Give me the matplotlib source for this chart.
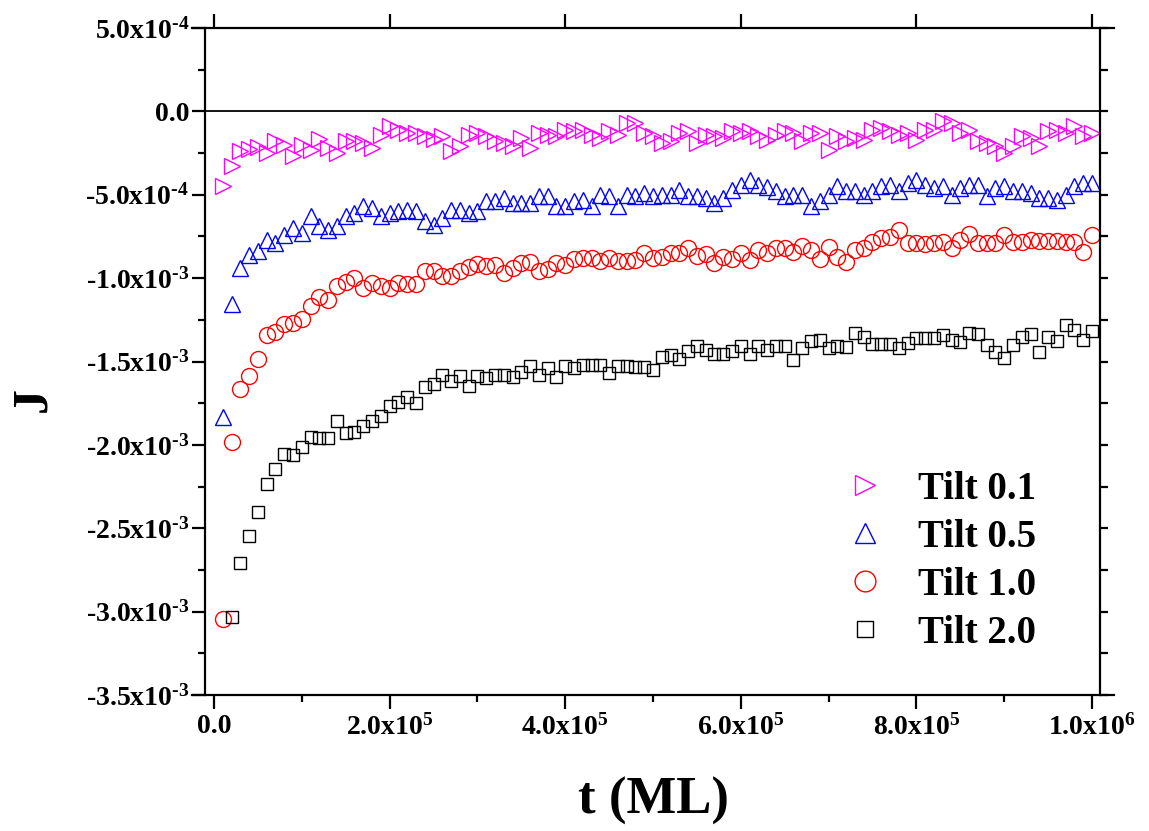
import matplotlib
matplotlib.use('Agg')
import matplotlib.pyplot as plt
from matplotlib.ticker import FixedLocator, MultipleLocator
import numpy as np

plt.rcParams['font.family'] = 'Liberation Serif'
plt.rcParams['font.weight'] = 'bold'
plt.rcParams['mathtext.fontset'] = 'custom'
plt.rcParams['mathtext.rm'] = 'Liberation Serif:bold'
plt.rcParams['mathtext.it'] = 'Liberation Serif:bold'
plt.rcParams['mathtext.bf'] = 'Liberation Serif:bold'
plt.rcParams['mathtext.default'] = 'rm'

#------------------------------
# data, J in units of 1e-3
#------------------------------
t = np.arange(1, 101) * 1.0e4

j_tilt01 = [-0.447, -0.327, -0.236, -0.226, -0.212, -0.25, -0.18, -0.2, -0.27, -0.2,
            -0.23, -0.166, -0.22, -0.25, -0.18, -0.176, -0.19, -0.22, -0.14, -0.09,
            -0.11, -0.13, -0.13, -0.148, -0.166, -0.148, -0.24, -0.21, -0.14, -0.13,
            -0.148, -0.18, -0.19, -0.21, -0.16, -0.22, -0.13, -0.14, -0.15, -0.11,
            -0.12, -0.11, -0.14, -0.16, -0.12, -0.14, -0.07, -0.068, -0.13, -0.15,
            -0.19, -0.18, -0.13, -0.12, -0.19, -0.14, -0.15, -0.16, -0.12, -0.13,
            -0.116, -0.148, -0.17, -0.14, -0.12, -0.13, -0.18, -0.13, -0.13, -0.23,
            -0.15, -0.18, -0.16, -0.17, -0.11, -0.10, -0.12, -0.14, -0.13, -0.17,
            -0.11, -0.11, -0.06, -0.07, -0.13, -0.11, -0.18, -0.19, -0.21, -0.25,
            -0.21, -0.15, -0.16, -0.21, -0.12, -0.11, -0.13, -0.09, -0.15, -0.13]

j_tilt05 = [-1.83, -1.155, -0.94, -0.86, -0.84, -0.77, -0.79, -0.74, -0.70, -0.73,
            -0.63, -0.69, -0.71, -0.69, -0.63, -0.61, -0.57, -0.58, -0.63, -0.61,
            -0.60, -0.59, -0.60, -0.66, -0.68, -0.64, -0.59, -0.59, -0.61, -0.60,
            -0.54, -0.54, -0.52, -0.55, -0.55, -0.55, -0.51, -0.51, -0.57, -0.57,
            -0.54, -0.53, -0.57, -0.50, -0.51, -0.57, -0.50, -0.51, -0.49, -0.51,
            -0.50, -0.50, -0.47, -0.51, -0.51, -0.52, -0.55, -0.52, -0.47, -0.44,
            -0.41, -0.44, -0.455, -0.48, -0.51, -0.50, -0.50, -0.57, -0.54, -0.50,
            -0.45, -0.48, -0.48, -0.50, -0.48, -0.45, -0.44, -0.48, -0.43, -0.41,
            -0.44, -0.46, -0.45, -0.50, -0.46, -0.44, -0.44, -0.51, -0.46, -0.45,
            -0.48, -0.48, -0.49, -0.52, -0.52, -0.53, -0.50, -0.45, -0.43, -0.43]

j_tilt10 = [-3.046, -1.98, -1.667, -1.587, -1.485, -1.341, -1.325, -1.277, -1.271, -1.245,
            -1.165, -1.115, -1.131, -1.047, -1.021, -1.001, -1.061, -1.031, -1.047, -1.061,
            -1.027, -1.035, -1.035, -0.955, -0.955, -0.987, -0.987, -0.955, -0.931, -0.917,
            -0.927, -0.921, -0.967, -0.937, -0.911, -0.901, -0.957, -0.947, -0.911, -0.921,
            -0.887, -0.881, -0.881, -0.897, -0.881, -0.895, -0.895, -0.891, -0.847, -0.881,
            -0.871, -0.851, -0.851, -0.817, -0.867, -0.855, -0.911, -0.875, -0.887, -0.851,
            -0.891, -0.831, -0.851, -0.821, -0.821, -0.841, -0.807, -0.831, -0.887, -0.815,
            -0.871, -0.901, -0.831, -0.821, -0.781, -0.761, -0.755, -0.711, -0.787, -0.787,
            -0.795, -0.787, -0.781, -0.821, -0.771, -0.735, -0.787, -0.787, -0.787, -0.741,
            -0.781, -0.781, -0.771, -0.775, -0.775, -0.775, -0.781, -0.781, -0.841, -0.741]

# tilt 2.0 starts at the second time step
j_tilt20 = [-3.030, -2.71, -2.546, -2.404, -2.236, -2.145, -2.055, -2.061, -2.011,
            -1.951, -1.961, -1.961, -1.857, -1.927, -1.925, -1.887, -1.855, -1.827, -1.767,
            -1.741, -1.715, -1.747, -1.655, -1.635, -1.581, -1.617, -1.587, -1.647, -1.587,
            -1.597, -1.581, -1.581, -1.591, -1.561, -1.527, -1.581, -1.541, -1.591, -1.527,
            -1.541, -1.521, -1.521, -1.521, -1.571, -1.527, -1.525, -1.535, -1.531, -1.551,
            -1.471, -1.461, -1.487, -1.437, -1.405, -1.431, -1.455, -1.455, -1.435, -1.405,
            -1.455, -1.405, -1.431, -1.407, -1.407, -1.491, -1.417, -1.377, -1.371, -1.417,
            -1.407, -1.415, -1.331, -1.351, -1.395, -1.395, -1.395, -1.417, -1.387, -1.361,
            -1.357, -1.357, -1.341, -1.371, -1.381, -1.331, -1.337, -1.401, -1.441, -1.477,
            -1.401, -1.355, -1.337, -1.445, -1.351, -1.377, -1.281, -1.311, -1.371, -1.315]

yticks = [5e-4, 0.0, -5e-4, -1e-3, -1.5e-3, -2e-3, -2.5e-3, -3e-3, -3.5e-3]
ytick_labels = [r'5.0x10$^{\text{-}4}$', '0.0', r'-5.0x10$^{\text{-}4}$', r'-1.0x10$^{\text{-}3}$',
                r'-1.5x10$^{\text{-}3}$', r'-2.0x10$^{\text{-}3}$', r'-2.5x10$^{\text{-}3}$',
                r'-3.0x10$^{\text{-}3}$', r'-3.5x10$^{\text{-}3}$']
xticks = [0.0, 2e5, 4e5, 6e5, 8e5, 1e6]
xtick_labels = ['0.0', '2.0x10$^{5}$', '4.0x10$^{5}$', '6.0x10$^{5}$', '8.0x10$^{5}$', '1.0x10$^{6}$']

#------------------------------
# plot
#------------------------------
W, H = 1149, 831
fig = plt.figure(figsize=(W/100, H/100), dpi=100)
ax = fig.add_axes([192/W, 1-695/H, 922/W, 667/H])

ms_kw = dict(linestyle='none', markerfacecolor='none', markeredgewidth=1.0)
ax.plot(t, np.array(j_tilt01)*1e-3, marker='>', markersize=11, color='#ff00ff', label='Tilt 0.1', **ms_kw)
ax.plot(t, np.array(j_tilt05)*1e-3, marker='^', markersize=11, color='#0000ff', label='Tilt 0.5', **ms_kw)
ax.plot(t, np.array(j_tilt10)*1e-3, marker='o', markersize=11.5, color='#ff0000', label='Tilt 1.0', **ms_kw)
ax.plot(t[1:], np.array(j_tilt20)*1e-3, marker='s', markersize=9, color='#000000', label='Tilt 2.0', **ms_kw)

xmin, xmax = -25057, 1025057
xleft, xright = -10250, 1009100
ax.set_xlim(xmin, xmax)
ax.set_ylim(-3.5e-3, 5e-4)

ax.axhline(0.0, xmin=(xleft-xmin)/(xmax-xmin), xmax=(xright-xmin)/(xmax-xmin), color='k', lw=1.3, zorder=1)

for s in ['left', 'right', 'top', 'bottom']:
    ax.spines[s].set_linewidth(1.6)
ax.spines['left'].set_position(('data', xleft))
ax.spines['right'].set_position(('data', xright))

ax.xaxis.set_major_locator(FixedLocator(xticks))
ax.xaxis.set_minor_locator(MultipleLocator(1e5))
ax.yaxis.set_major_locator(FixedLocator(yticks))
ax.yaxis.set_minor_locator(MultipleLocator(2.5e-4))
ax.set_xticklabels(xtick_labels)
ax.set_yticklabels(ytick_labels)

ax.tick_params(axis='both', which='both', direction='out', width=1.6, labelsize=20)
ax.tick_params(axis='x', which='major', length=10, pad=4, top=True)
ax.tick_params(axis='x', which='minor', length=5, top=False)
ax.tick_params(axis='y', which='major', length=9.5, pad=2)
ax.tick_params(axis='y', which='minor', length=5)
ax.tick_params(axis='y', which='both', right=True)
for tk in ax.yaxis.get_major_ticks() + ax.yaxis.get_minor_ticks():
    tk.tick2line.set_markersize(6)

fig.text(33/W, 1-400/H, 'J', rotation=90, fontsize=36, fontweight='bold', ha='center', va='center')
fig.text(653/W, 1-801/H, 't (ML)', fontsize=38, fontweight='bold', ha='center', va='center')

ax.legend(loc='upper left', bbox_to_anchor=(846/W, 1-471/H), bbox_transform=fig.transFigure,
          frameon=False, fontsize=28, handlelength=1.0, handletextpad=0.85, markerscale=1.3,
          labelspacing=0.28, borderpad=0, borderaxespad=0)

fig.savefig('out.png', dpi=100)
plt.close()
